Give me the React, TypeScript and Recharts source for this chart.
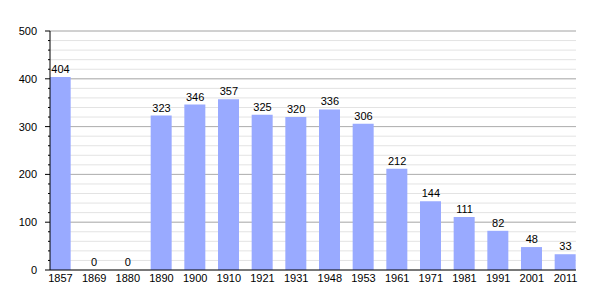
import React from "react";
import {
  Bar, CartesianGrid, ComposedChart, LabelList, Line, XAxis, YAxis,
} from "recharts";

const YEARS = ["1857", "1869", "1880", "1890", "1900", "1910", "1921", "1931", "1948", "1953", "1961", "1971", "1981", "1991", "2001", "2011"];
const POPULATION = [404, 0, 0, 323, 346, 357, 325, 320, 336, 306, 212, 144, 111, 82, 48, 33];
const Y_TICKS = [0, 20, 40, 60, 80, 100, 120, 140, 160, 180, 200, 220, 240, 260, 280, 300, 320, 340, 360, 380, 400, 420, 440, 460, 480, 500];
const Y_MAJOR = [100, 200, 300, 400, 500];
const X_TICKS = YEARS.map((_, i) => i);

const data = YEARS.map((year, i) => ({ idx: i, year, pop: POPULATION[i] }));

const FONT = { fontSize: 11, fill: "#000" };

function YTick(props: any) {
  const { x, y, payload } = props;
  const major = payload.value % 100 === 0;
  return (
    <g>
      <line x1={x - (major ? 5 : 2)} x2={x} y1={y} y2={y} stroke="#000" strokeWidth={1} />
      {major && (
        <text x={x - 13} y={y} dy={4} textAnchor="end" {...FONT}>
          {payload.value}
        </text>
      )}
    </g>
  );
}

export default function App() {
  return (
    <div style={{ position: "absolute", left: 0, top: 0, background: "#fff", fontFamily: "'Liberation Sans', Arial, sans-serif" }}>
      <ComposedChart width={605} height={300} data={data} margin={{ top: 31, right: 29, left: 0, bottom: 10 }}>
        <CartesianGrid vertical={false} stroke="#e3e3e3" />
        <CartesianGrid vertical={false} stroke="#b0b0b0" horizontalValues={Y_MAJOR} />
        <XAxis
          dataKey="idx"
          type="number"
          domain={[-0.312, 15.312]}
          allowDataOverflow
          ticks={X_TICKS}
          interval={0}
          tickFormatter={(i) => YEARS[i]}
          height={20}
          tickLine={false}
          tickSize={0}
          tickMargin={4}
          axisLine={{ stroke: "#000" }}
          tick={FONT}
        />
        <YAxis
          domain={[0, 500]}
          ticks={Y_TICKS}
          interval={0}
          width={50}
          tickSize={0}
          tickMargin={0}
          tickLine={false}
          axisLine={{ stroke: "#000" }}
          tick={<YTick />}
        />
        <Bar dataKey="pop" fill="#99aaff" barSize={21} isAnimationActive={false} />
        <Line dataKey="pop" stroke="none" dot={false} activeDot={false} isAnimationActive={false}>
          <LabelList dataKey="pop" position="top" offset={4} {...FONT} />
        </Line>
      </ComposedChart>
    </div>
  );
}
